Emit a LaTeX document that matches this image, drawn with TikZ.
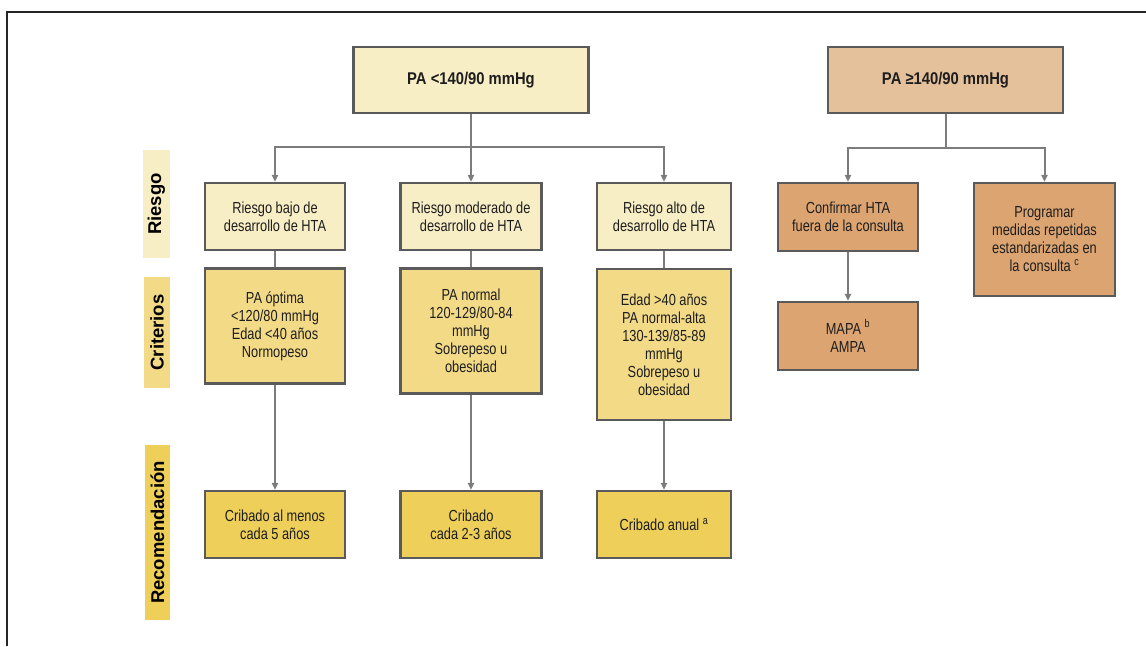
\documentclass[tikz,border=0pt]{standalone}
\usepackage{fontspec}
\setmainfont{Liberation Sans}
\newfontfamily\nrwfont[FakeStretch=0.8]{Liberation Sans}
\newfontfamily\nrwtitle[FakeStretch=0.87]{Liberation Sans}
\usetikzlibrary{arrows.meta}
\definecolor{paleY}{HTML}{F8EEC6}
\definecolor{midY}{HTML}{F3DA87}
\definecolor{deepY}{HTML}{EDCF5A}
\definecolor{peach}{HTML}{E5C19B}
\definecolor{orng}{HTML}{DCA470}
\definecolor{bordr}{HTML}{5A5A5A}
\definecolor{conn}{HTML}{7C7C7C}
\definecolor{txt}{HTML}{1E1E1E}
\begin{document}
\begin{tikzpicture}[x=1pt,y=1pt,
  box/.style={draw=bordr,line width=2.1pt,align=center,inner sep=2pt,
    font=\nrwfont\fontsize{16}{18}\selectfont,text=txt},
  titlebox/.style={box,font=\nrwtitle\bfseries\fontsize{17}{19}\selectfont},
  wh/.style 2 args={minimum width=#1,minimum height=#2},
  lab/.style={rotate=90,inner sep=0pt,font=\bfseries\fontsize{18.5}{20}\selectfont,text=black},
  link/.style={draw=conn,line width=2pt},
  arr/.style={link,-{Triangle[length=7pt,width=6pt]}}]
\useasboundingbox (0,0) rectangle (1146,-646);
\draw[line width=1.5pt,black!85] (7,-646) -- (7,-12) -- (1146,-12);

% side labels
\node[lab,fill=paleY,wh={108}{27}] (lriesgo) at (156.5,-204) {Riesgo};
\node[lab,fill=midY,wh={111}{26}] (lcrit) at (157,-332.5) {Criterios};
\node[lab,fill=deepY,wh={175}{25}] (lrec) at (157.5,-532.5) {Recomendación};

% top boxes
\node[titlebox,fill=paleY,wh={235}{66}] (top1) at (471,-80) {PA <140/90 mmHg};
\node[titlebox,fill=peach,wh={235}{66}] (top2) at (945.5,-80) {PA ≥140/90 mmHg};

% risk row
\node[box,fill=paleY,wh={140}{67}] (r1) at (275,-216.5) {Riesgo bajo de\\desarrollo de HTA};
\node[box,fill=paleY,wh={141}{67}] (r2) at (471,-216.5) {Riesgo moderado de\\desarrollo de HTA};
\node[box,fill=paleY,wh={134}{67}] (r3) at (664,-216.5) {Riesgo alto de\\desarrollo de HTA};

% criteria row
\node[box,fill=midY,wh={140}{115}] (c1) at (275,-326) {PA óptima\\<120/80 mmHg\\Edad <40 años\\Normopeso};
\node[box,fill=midY,wh={141}{125}] (c2) at (471,-331) {PA normal\\120-129/80-84\\mmHg\\Sobrepeso u\\obesidad};
\node[box,fill=midY,wh={134}{151}] (c3) at (664,-344.5) {Edad >40 años\\PA normal-alta\\130-139/85-89\\mmHg\\Sobrepeso u\\obesidad};

% recommendation row
\node[box,fill=deepY,wh={140}{67}] (rec1) at (275,-524.5) {Cribado al menos\\cada 5 años};
\node[box,fill=deepY,wh={141}{67}] (rec2) at (471,-524.5) {Cribado\\cada 2-3 años};
\node[box,fill=deepY,wh={134}{67}] (rec3) at (664,-524.5) {Cribado anual \textsuperscript{a}};

% right branch
\node[box,fill=orng,wh={140}{68}] (conf) at (848,-217) {Confirmar HTA\\fuera de la consulta};
\node[box,fill=orng,wh={141}{113}] (prog) at (1044.5,-239.5) {Programar\\medidas repetidas\\estandarizadas en\\la consulta \textsuperscript{c}};
\node[box,fill=orng,wh={140}{68}] (mapa) at (848,-336) {MAPA \textsuperscript{b}\\AMPA};

% connectors left tree
\coordinate (s1) at (471,-147);
\draw[link] (top1.south) -- (s1);
\draw[arr] (s1) -| (r1.north);
\draw[arr] (s1) -- (r2.north);
\draw[arr] (s1) -| (r3.north);
\draw[link] (r1.south) -- (c1.north);
\draw[link] (r2.south) -- (c2.north);
\draw[link] (r3.south) -- (c3.north);
\draw[arr] (c1.south) -- (rec1.north);
\draw[arr] (c2.south) -- (rec2.north);
\draw[arr] (c3.south) -- (rec3.north);

% connectors right tree
\coordinate (s2) at (945.5,-148);
\draw[link] (top2.south) -- (s2);
\draw[arr] (s2) -| (conf.north);
\draw[arr] (s2) -| (prog.north);
\draw[arr] (conf.south) -- (mapa.north);
\end{tikzpicture}
\end{document}
